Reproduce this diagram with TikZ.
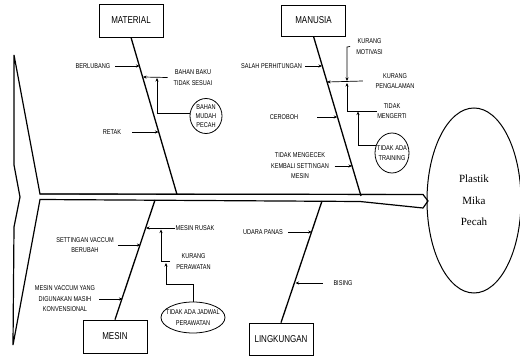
\documentclass[tikz,border=0pt]{standalone}
\usepackage{fontspec}
\setmainfont{Liberation Serif}
\newfontfamily\lblfont[FakeStretch=0.8]{Liberation Sans}
\usetikzlibrary{arrows.meta,shapes.geometric}
\begin{document}
\begin{tikzpicture}[x=1pt,y=-1pt,
  lbl/.style={font=\lblfont\fontsize{7}{10.5}\selectfont, align=center, inner sep=0pt},
  catbox/.style={draw, line width=0.8pt, minimum width=64pt, minimum height=33pt, inner sep=0pt, font=\lblfont\fontsize{10}{12}\selectfont},
  bone/.style={line width=1.3pt},
  subarrow/.style={line width=0.7pt, -{Stealth[length=3.5pt,width=3pt]}},
  oval/.style={draw, ellipse, line width=0.8pt, inner sep=0pt}
]
\useasboundingbox (0,0) rectangle (520,358);

% fish tail and spine
\draw[line width=1.2pt, line join=miter] (14,55) -- (40,194) -- (423,194.5) -- (428,201) -- (423,208) -- (360,201.5) -- (40,199.5) -- (13,345) -- (14,227) -- (20,197) -- (14,165) -- cycle;
\draw[line width=0.9pt] (40,194) -- (423,194.5);

% head
\node[oval, line width=1pt, minimum width=94pt, minimum height=185pt] (head) at (474,200.5) {};
\node[font=\fontsize{11}{21.5}\selectfont, align=center, inner sep=0pt] (headtext) at (head.center) {Plastik\\Mika\\Pecah};

% category boxes
\node[catbox] (material) at (131,20.5) {MATERIAL};
\node[catbox, minimum height=31pt] (manusia) at (313.5,20.5) {MANUSIA};
\node[catbox] (mesin) at (115,336.5) {MESIN};
\node[catbox, minimum height=32pt] (lingkungan) at (281,339) {LINGKUNGAN};

% spine joints
\coordinate (matS) at (177,194.5);
\coordinate (manS) at (361,196);
\coordinate (mesS) at (155,200);
\coordinate (linS) at (322,201);

\draw[bone] (material.south) -- (matS);
\draw[bone] (manusia.south) -- (manS);
\draw[bone] (mesin.north) -- (mesS);
\draw[bone] (lingkungan.north) -- (linS);

% ---------- MATERIAL ----------
\node[lbl] (berlubang) at (93,66) {BERLUBANG};
\node[lbl] (bahanbaku) at (193,77.5) {BAHAN BAKU\\TIDAK SESUAI};
\node[lbl] (retak) at (112,132) {RETAK};
\node[oval, minimum width=32pt, minimum height=35pt] (mudah) at (206,116) {};
\node[lbl, font=\lblfont\fontsize{7}{9}\selectfont] (mudahtext) at (mudah.center) {BAHAN\\MUDAH\\PECAH};

\coordinate (b1) at (139.5,66);
\coordinate (b2) at (143,77);
\coordinate (b3) at (158.5,132);
\coordinate (b2up) at (157,78);

\draw[subarrow] ([xshift=5pt]berlubang.east) -- (b1);
\draw[subarrow] ([xshift=-6pt]bahanbaku.west) -- (b2);
\draw[subarrow] ([xshift=11pt]retak.east) -- (b3);
\draw[subarrow] (mudah.170) -| (b2up);

% ---------- MANUSIA ----------
\node[lbl, anchor=east] (salah) at (302,66) {SALAH PERHITUNGAN};
\node[lbl] (motivasi) at (369.5,46.5) {KURANG\\MOTIVASI};
\node[lbl] (pengalaman) at (395,81) {KURANG\\PENGALAMAN};
\node[lbl] (mengerti) at (392,111) {TIDAK\\MENGERTI};
\node[lbl] (ceroboh) at (284,117) {CEROBOH};
\node[lbl] (mengecek) at (300,166) {TIDAK MENGECEK\\KEMBALI SETTINGAN\\MESIN};
\node[oval, minimum width=34pt, minimum height=40pt] (training) at (392,153) {};
\node[lbl, font=\lblfont\fontsize{7}{10}\selectfont] (trainingtext) at (training.center) {TIDAK ADA\\TRAINING};

\coordinate (n1) at (322,66);
\coordinate (n2) at (327,82);
\coordinate (n3) at (337.3,117);
\coordinate (n4) at (352,166);
\coordinate (motc) at (347,47);
\coordinate (motdown) at (347,81);
\coordinate (mengup) at (347,83);
\coordinate (trainup) at (358,111.5);

\draw[subarrow] ([xshift=3pt]salah.east) -- (n1);
\draw[subarrow] ([xshift=-12.5pt]pengalaman.west) -- (n2);
\draw[subarrow] ([xshift=19pt]ceroboh.east) -- (n3);
\draw[subarrow] ([xshift=5.5pt]mengecek.east) -- (n4);
\draw[subarrow] ([xshift=-6pt]motivasi.west) -- (motc) -- (motdown);
\draw[subarrow] (mengerti.west) -| (mengup);
\draw[subarrow] (training.155) -| (trainup);

% ---------- MESIN ----------
\node[lbl] (rusak) at (195,228) {MESIN RUSAK};
\node[lbl] (kperawatan) at (193.5,261.5) {KURANG\\PERAWATAN};
\node[lbl] (settingan) at (85,245) {SETTINGAN VACCUM\\BERUBAH};
\node[lbl] (vaccum) at (65,299) {MESIN VACCUM YANG\\DIGUNAKAN MASIH\\KONVENSIONAL};
\node[oval, minimum width=64pt, minimum height=31pt] (jadwal) at (193,317.5) {};
\node[lbl, font=\lblfont\fontsize{7}{11}\selectfont] (jadwaltext) at (jadwal.center) {TIDAK ADA JADWAL\\PERAWATAN};

\coordinate (s1) at (146,228);
\coordinate (s2) at (140.4,245);
\coordinate (s3) at (122.5,299);
\coordinate (kpc) at (161,261.5);
\coordinate (rusakup) at (161,229.5);
\coordinate (jc1) at (193,284);
\coordinate (jc2) at (166,284);
\coordinate (kpup) at (166,263);

\draw[subarrow] ([xshift=-1pt]rusak.west) -- (s1);
\draw[subarrow] ([xshift=4pt]settingan.east) -- (s2);
\draw[subarrow] ([xshift=4pt]vaccum.east) -- (s3);
\draw[subarrow] ([xshift=-6pt]kperawatan.west) -- (kpc) -- (rusakup);
\draw[subarrow] (jadwal.north) -- (jc1) -- (jc2) -- (kpup);

% ---------- LINGKUNGAN ----------
\node[lbl, anchor=east] (udara) at (283,232) {UDARA PANAS};
\node[lbl] (bising) at (343,283) {BISING};

\coordinate (l1) at (311.8,232);
\coordinate (l2) at (295.5,283);

\draw[subarrow] ([xshift=5pt]udara.east) -- (l1);
\draw[subarrow] ([xshift=-10.5pt]bising.west) -- (l2);
\end{tikzpicture}
\end{document}
